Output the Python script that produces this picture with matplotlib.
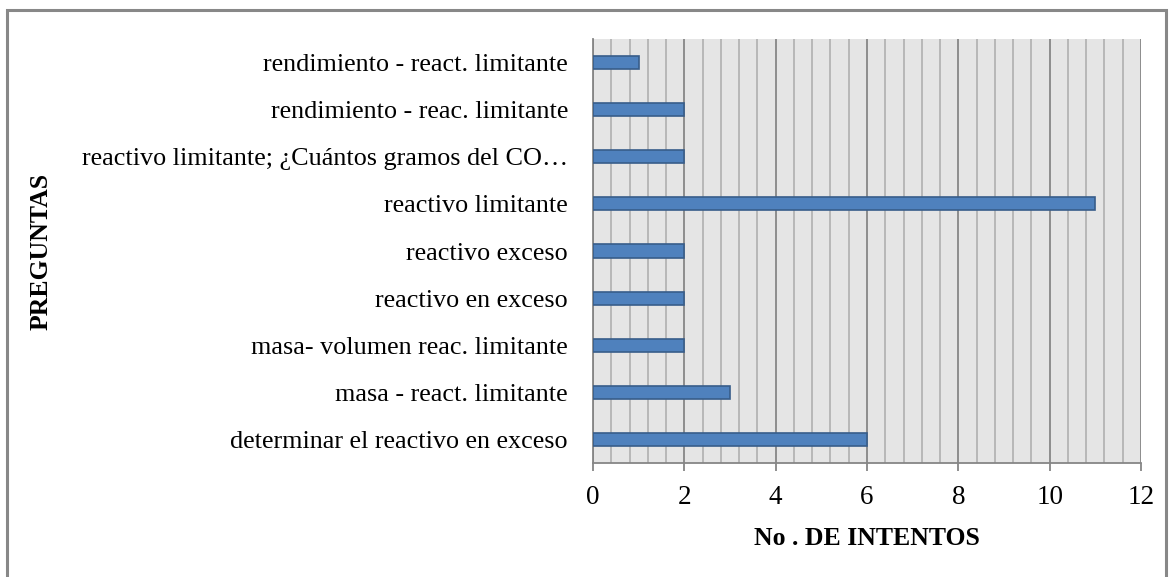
import matplotlib
matplotlib.use("Agg")
import matplotlib.pyplot as plt
from matplotlib.ticker import MultipleLocator
from matplotlib.patches import Rectangle

categories = [
    "determinar el reactivo en exceso",
    "masa - react. limitante",
    "masa- volumen reac. limitante",
    "reactivo en exceso",
    "reactivo exceso",
    "reactivo limitante",
    "reactivo limitante; ¿Cuántos gramos del CO…",
    "rendimiento - reac. limitante",
    "rendimiento - react. limitante",
]
values = [6, 3, 2, 2, 2, 11, 2, 2, 1]
xticks = [0, 2, 4, 6, 8, 10, 12]

plt.rcParams['font.family'] = ['Liberation Serif', 'DejaVu Serif']

W, H = 1172, 577
fig = plt.figure(figsize=(W / 100, H / 100), dpi=100)
fig.patch.set_facecolor('white')

# outer chart border
fig.add_artist(Rectangle((6.5 / W, -0.05), (1166 - 6.5) / W, 1.05 - 10 / H,
                         transform=fig.transFigure, fill=False,
                         edgecolor='#888888', linewidth=2.2))

left, right, top, bottom = 593, 1141, 39, 463
ax = fig.add_axes([left / W, 1 - bottom / H, (right - left) / W, (bottom - top) / H])
ax.set_facecolor('#e5e5e5')

y = list(range(len(categories)))
ax.barh(y, values, height=0.28, color='#4f81bd', edgecolor='#385d8a', linewidth=1.2, zorder=3)

ax.set_xlim(0, 12)
ax.set_ylim(-0.5, len(categories) - 0.5)
ax.set_xticks(xticks)
ax.set_xticklabels([str(t) for t in xticks], fontsize=19.5)
ax.xaxis.set_minor_locator(MultipleLocator(0.4))
ax.grid(which='major', axis='x', color='#868686', linewidth=1.3, zorder=1)
ax.grid(which='minor', axis='x', color='#b4b4b4', linewidth=1.3, zorder=1)
ax.set_yticks(y)
ax.set_yticklabels(categories, fontsize=18.8)
ax.tick_params(axis='y', length=0, pad=18)
ax.tick_params(axis='x', which='major', length=6, width=1.3, color='#868686', pad=10)
ax.tick_params(axis='x', which='minor', length=0)

for s in ['top', 'right']:
    ax.spines[s].set_visible(False)
ax.spines['left'].set_color('#868686')
ax.spines['left'].set_linewidth(1.3)
ax.spines['bottom'].set_color('#868686')
ax.spines['bottom'].set_linewidth(1.3)

ax.set_xlabel("No . DE INTENTOS", fontsize=18.5, fontweight='bold', labelpad=12)
fig.text(41 / W, 1 - 251 / H, "PREGUNTAS", rotation=90, fontsize=18.5, fontweight='bold',
         ha='center', va='center')

fig.savefig("out.png", dpi=100)
